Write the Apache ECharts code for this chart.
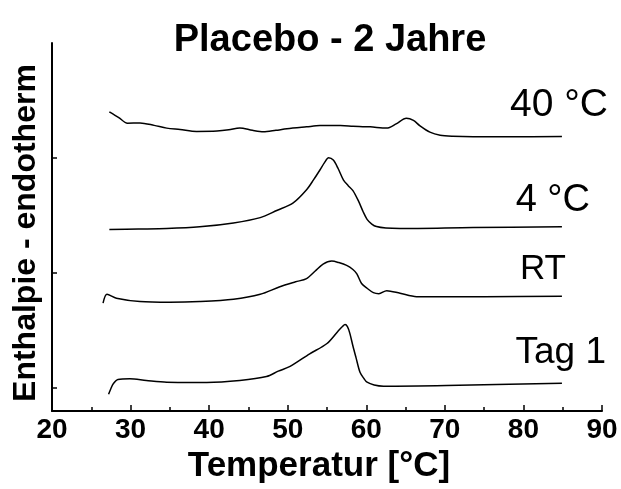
<!DOCTYPE html>
<html>
<head>
<meta charset="utf-8">
<script src="https://cdn.jsdelivr.net/npm/echarts@6/dist/echarts.min.js"></script>
<style>
html,body{margin:0;padding:0;background:#fff;}
#chart{width:621px;height:489px;}
</style>
</head>
<body>
<div id="chart"></div>
<script>
// ---- data ----
const chartTitle = 'Placebo - 2 Jahre';
const xAxisName = 'Temperatur [°C]';
const yAxisName = 'Enthalpie - endotherm';
const xTicks = [20, 30, 40, 50, 60, 70, 80, 90];
const seriesNames = ['40 °C', '4 °C', 'RT', 'Tag 1'];

const temp40 = [27.3, 28.5, 29.6, 31.2, 33.0, 34.6, 36.3, 38.4, 41.0, 42.5, 43.9, 45.5, 46.9, 48.5, 49.9, 52.4, 54.1, 56.7, 58.3, 60.5, 62.6, 63.8, 65.1, 66.0, 66.8, 68.1, 69.4, 71.0, 73.6, 78.0, 84.9];
const val40  = [2.602, 2.552, 2.503, 2.505, 2.484, 2.460, 2.448, 2.431, 2.434, 2.445, 2.462, 2.441, 2.428, 2.441, 2.454, 2.471, 2.482, 2.482, 2.477, 2.471, 2.460, 2.497, 2.545, 2.527, 2.482, 2.425, 2.398, 2.389, 2.385, 2.385, 2.388];

const temp4 = [27.3, 31.0, 34.6, 38.8, 43.1, 46.5, 48.6, 50.7, 52.4, 53.3, 54.1, 54.7, 55.2, 55.8, 56.4, 57.1, 57.7, 58.3, 59.0, 59.6, 60.1, 60.7, 61.3, 62.5, 64.3, 73.6, 84.9];
const val4  = [1.579, 1.583, 1.587, 1.602, 1.636, 1.682, 1.744, 1.810, 1.924, 2.012, 2.096, 2.162, 2.202, 2.182, 2.111, 2.008, 1.960, 1.917, 1.827, 1.733, 1.667, 1.626, 1.604, 1.591, 1.587, 1.596, 1.602];

const tempRT = [26.5, 27.0, 28.2, 31.2, 35.0, 38.8, 43.1, 46.5, 49.0, 51.0, 52.4, 53.5, 54.5, 55.6, 56.5, 57.5, 58.3, 58.8, 59.4, 60.1, 60.9, 61.6, 62.6, 64.3, 66.4, 69.4, 75.0, 84.9];
const valRT  = [0.938, 1.015, 0.981, 0.952, 0.946, 0.952, 0.972, 1.015, 1.081, 1.124, 1.152, 1.218, 1.278, 1.304, 1.291, 1.267, 1.231, 1.193, 1.109, 1.068, 1.030, 1.021, 1.047, 1.024, 0.995, 0.995, 0.995, 0.999];

const tempTag1 = [27.2, 27.5, 27.8, 28.4, 29.9, 32.0, 34.6, 39.7, 43.9, 47.3, 48.8, 50.3, 52.8, 55.0, 56.4, 57.0, 57.3, 57.6, 57.9, 58.3, 58.7, 59.2, 59.7, 60.1, 61.0, 62.2, 70.2, 84.9];
const valTag1  = [0.146, 0.197, 0.238, 0.275, 0.281, 0.266, 0.251, 0.249, 0.266, 0.300, 0.347, 0.388, 0.498, 0.588, 0.695, 0.738, 0.752, 0.734, 0.678, 0.566, 0.463, 0.337, 0.283, 0.251, 0.227, 0.217, 0.223, 0.243];

const yTickValues = [0.2, 1.2, 2.2];

// ---- chart ----
const pair = (xs, ys) => xs.map((x, i) => [x, ys[i]]);
const curves = [pair(temp40, val40), pair(temp4, val4), pair(tempRT, valRT), pair(tempTag1, valTag1)];

const chart = echarts.init(document.getElementById('chart'), null, {renderer: 'canvas'});
const FONT = 'Liberation Sans, Arial, sans-serif';

const option = {
  animation: false,
  backgroundColor: '#fff',
  title: {
    text: chartTitle, left: 325, top: 17, textAlign: 'center',
    textStyle: {fontFamily: FONT, fontWeight: 'bold', fontSize: 38, color: '#000'}
  },
  grid: {left: 52, right: 19, top: 43, bottom: 73, containLabel: false},
  xAxis: {
    type: 'value', min: 20, max: 90, interval: 10,
    name: xAxisName, nameLocation: 'middle', nameGap: 36,
    nameTextStyle: {fontFamily: FONT, fontWeight: 'bold', fontSize: 35, color: '#000', padding: [0, 16, 0, 0]},
    axisLine: {show: true, lineStyle: {color: '#000', width: 2}},
    axisTick: {show: true, inside: true, length: 6, lineStyle: {color: '#000', width: 1.5}},
    minorTick: {show: true, splitNumber: 2, length: 4, lineStyle: {color: '#000', width: 1.5}},
    axisLabel: {fontFamily: FONT, fontWeight: 'bold', fontSize: 28, color: '#000', margin: 5,
      formatter: v => xTicks.includes(v) ? String(v) : ''},
    splitLine: {show: false}
  },
  yAxis: {
    type: 'value', min: 0, max: 3.2,
    name: yAxisName, nameLocation: 'middle', nameGap: 10,
    nameTextStyle: {fontFamily: FONT, fontWeight: 'bold', fontSize: 32, color: '#000', padding: [0, 12, 0, 0]},
    axisLine: {show: true, lineStyle: {color: '#000', width: 2}},
    axisTick: {show: true, inside: true, length: 5, customValues: yTickValues, lineStyle: {color: '#000', width: 1.5}},
    axisLabel: {show: false},
    splitLine: {show: false}
  },
  series: curves.map((d, i) => ({
    name: seriesNames[i], type: 'line', data: d, showSymbol: false, smooth: 0.3,
    lineStyle: {color: '#000', width: 1.5}, silent: true
  })),
  graphic: [
    {type: 'text', right: 13, top: 86, style: {text: seriesNames[0], font: '39px ' + FONT, fill: '#000'}},
    {type: 'text', right: 31, top: 182, style: {text: seriesNames[1], font: '38px ' + FONT, fill: '#000'}},
    {type: 'text', right: 55, top: 252, style: {text: seriesNames[2], font: '35px ' + FONT, fill: '#000'}},
    {type: 'text', right: 15, top: 334, style: {text: seriesNames[3], font: '37px ' + FONT, fill: '#000'}}
  ]
};
chart.setOption(option);
</script>
</body>
</html>
